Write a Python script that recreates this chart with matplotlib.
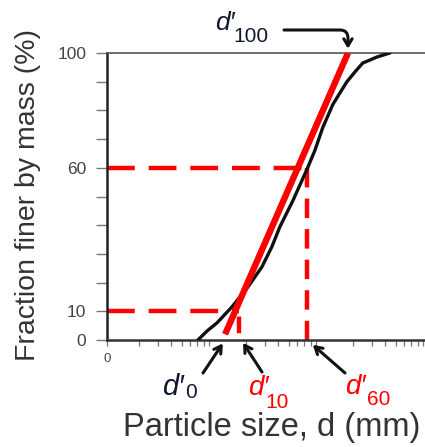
import matplotlib
matplotlib.use("Agg")
import matplotlib.pyplot as plt
from matplotlib.ticker import LogLocator, NullFormatter

plt.rcParams['font.family'] = ['Liberation Sans', 'DejaVu Sans']
plt.rcParams['lines.scale_dashes'] = False

# grading curve: particle size (mm) vs percent finer
size_mm = [7.08, 8.6, 10.7, 14.7, 20.8, 28.1, 34.8, 41.4, 54.6, 74.1, 87.7, 104, 129,
           150, 175, 208, 246, 334, 441]
pct_finer = [0, 3.1, 6, 11.5, 18.5, 25.5, 32.5, 39.5, 48.5, 59.5, 66, 74, 82,
             86, 90, 93.4, 96.5, 98.6, 100]

# straight (tangent) line d'0 -> d'100
tangent_mm = [12.7, 179]
tangent_pct = [2, 100]

# characteristic sizes
d0 = 12.1
d10 = 17.1
d60 = 74.1
d100 = 179
p10 = 10
p60 = 60

ytick_vals = list(range(0, 101, 10))
ytick_text = {0: '0', 10: '10', 60: '60', 100: '100'}

W, H = 425, 447
fig = plt.figure(figsize=(W / 100, H / 100), dpi=100)
ax = fig.add_axes([107 / W, 107 / H, 318 / W, 287 / H])

red = '#ff0000'
ax.plot(size_mm, pct_finer, color='#111111', lw=2.4, solid_capstyle='round',
        solid_joinstyle='round', zorder=3)
ax.plot(tangent_mm, tangent_pct, color=red, lw=4.6, solid_capstyle='butt', zorder=4)

# dashed guide lines
ax.plot([1, d60], [p60, p60], color=red, lw=3.2, linestyle=(0, (20, 10)), zorder=2, clip_on=False)
ax.plot([d60, d60], [p60, 0], color=red, lw=3.2, linestyle=(0, (14, 8)), zorder=2)
ax.plot([1, d10], [p10, p10], color=red, lw=3.2, linestyle=(0, (20, 10)), zorder=2, clip_on=False)
ax.plot([d10, d10], [p10, 0], color=red, lw=3.2, linestyle=(16, (12, 8)), zorder=2)

ax.set_xscale('log')
ax.set_xlim(1, 940)
ax.set_ylim(0, 100)

ax.set_xticks([1], ['0'])
ax.xaxis.set_minor_locator(LogLocator(base=10, subs=range(2, 10), numticks=20))
ax.xaxis.set_minor_formatter(NullFormatter())
ax.tick_params(axis='x', which='both', direction='out', length=4.5, width=0.9,
               color='#777777', labelsize=9.5, labelcolor='#444444', pad=5)

ax.set_yticks(ytick_vals, [ytick_text.get(v, '') for v in ytick_vals])
ax.tick_params(axis='y', direction='out', length=8, width=1.0, color='#777777',
               labelsize=12.5, labelcolor='#444444', pad=7)

ax.spines['right'].set_visible(False)
ax.spines['left'].set_color('#222222')
ax.spines['left'].set_linewidth(1.8)
ax.spines['bottom'].set_color('#333333')
ax.spines['bottom'].set_linewidth(1.8)
ax.spines['top'].set_color('#555555')
ax.spines['top'].set_linewidth(1.2)

fig.text(28 / W, 252 / H, 'Fraction finer by mass (%)', rotation=90, fontsize=20.5,
         color='#333333', ha='center', va='center')
fig.text(272 / W, 11 / H, 'Particle size, d (mm)', fontsize=23.5, color='#333333',
         ha='center', va='baseline')

arrow = dict(arrowstyle='->,head_length=0.5,head_width=0.3', lw=2.2, color='#111111',
             shrinkA=0, shrinkB=0)
ax.annotate('', xy=(d0, -1.2), xytext=(203, 74), textcoords='figure pixels',
            arrowprops=arrow, annotation_clip=False)
ax.annotate('', xy=(18.7, -1.0), xytext=(262, 75), textcoords='figure pixels',
            arrowprops=arrow, annotation_clip=False)
ax.annotate('', xy=(84, -1.7), xytext=(345, 74), textcoords='figure pixels',
            arrowprops=arrow, annotation_clip=False)
ax.annotate('', xy=(d100, 101.5), xytext=(284, 417), textcoords='figure pixels',
            arrowprops=dict(arrow, connectionstyle='angle,angleA=0,angleB=90,rad=8'),
            annotation_clip=False)


def label_d(x, y, sub, sub_x, sub_y, color, size=21, sub_size=15):
    # italic d with prime, then an upright subscript
    fig.text(x / W, y / H, 'd\u2032', fontsize=size, style='italic', color=color,
             ha='left', va='baseline')
    fig.text(sub_x / W, sub_y / H, sub, fontsize=sub_size, color=color,
             ha='left', va='baseline')


navy = '#101830'
label_d(162, 52, '0', 185, 49, navy)
label_d(248, 52, '10', 265, 39, red, size=20)
label_d(345, 53, '60', 367, 42, red, size=20)
label_d(215, 417, '100', 233, 405, navy, size=19)

fig.savefig('out.png', dpi=100)
